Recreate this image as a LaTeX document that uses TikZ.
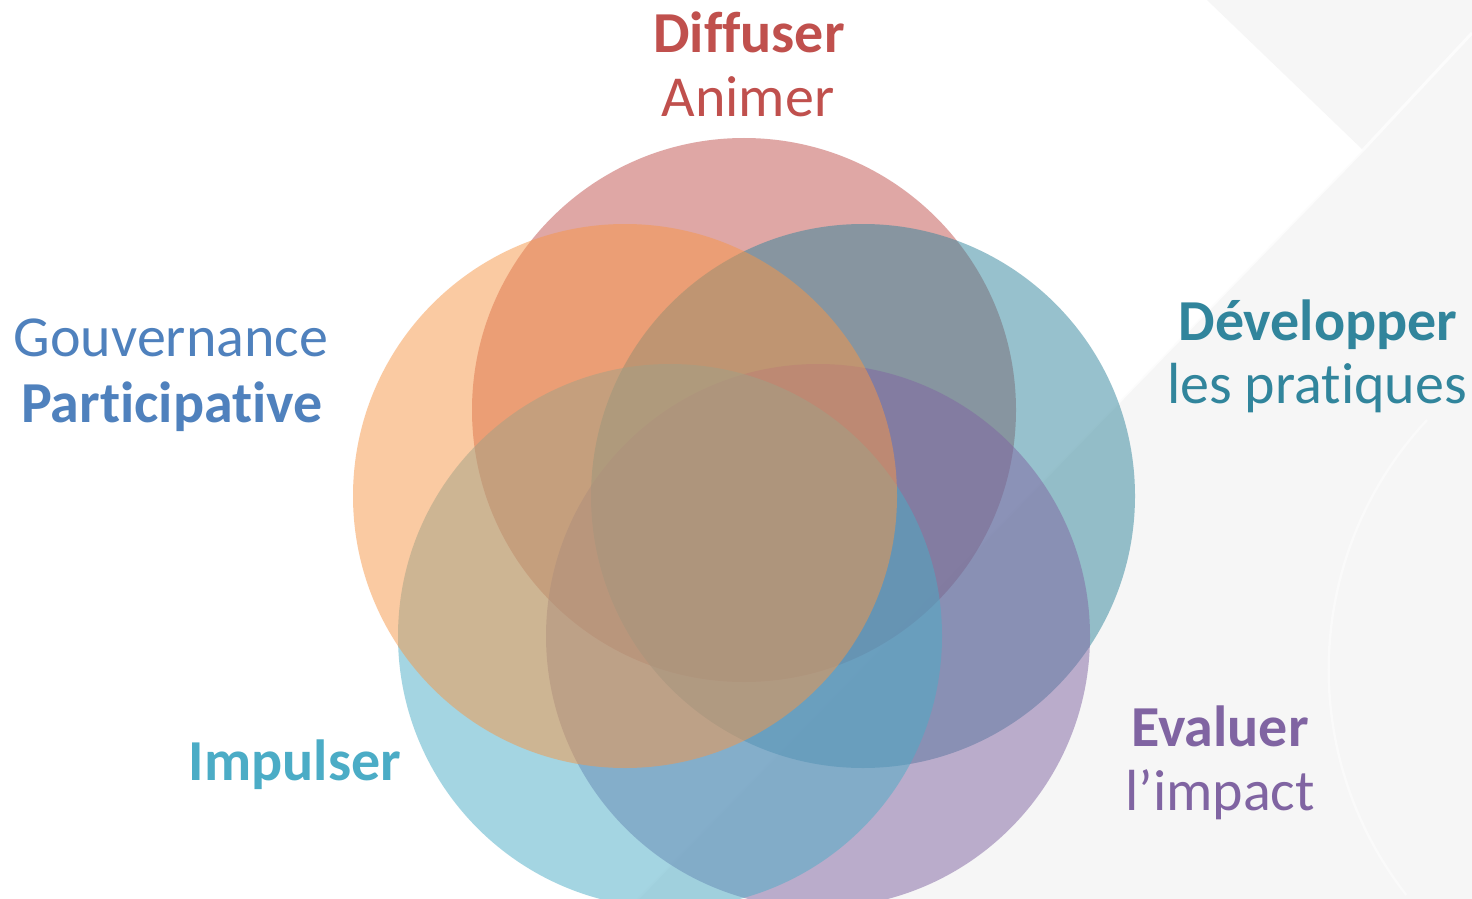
\documentclass[tikz,border=0pt]{standalone}
\usepackage{fontspec}
\setmainfont{Carlito}[Ligatures=NoCommon]
\usepackage{tikz}

\definecolor{cred}{HTML}{C0504D}
\definecolor{corange}{HTML}{F79646}
\definecolor{cteal}{HTML}{31859C}
\definecolor{cblue}{HTML}{4BACC6}
\definecolor{cpurple}{HTML}{8064A2}
\definecolor{cgov}{HTML}{4F81BD}
\definecolor{bggrey}{HTML}{F6F6F6}

\tikzset{
	petal/.style={fill opacity=0.5},
	lbl/.style={anchor=base, inner sep=0pt, font=\fontsize{29}{32}\selectfont}
}

\begin{document}
\begin{tikzpicture}[x=0.5pt,y=-0.5pt]
	
	\useasboundingbox (0,0) rectangle (1472,899);
	\fill[white] (0,0) rectangle (1472,899);
	\fill[bggrey] (1207,0) -- (1363,150) -- (637,899) -- (1472,899) -- (1472,0) -- cycle;
	\draw[white, line width=1.5pt, opacity=0.7] (1472,33) -- (1363,150) -- (637,899);
	\draw[white, line width=1.2pt, opacity=0.45] (1427,420) arc[start angle=137, end angle=218, radius=183pt];
	
	\coordinate (mid) at (744,535);
	\fill[cred,    petal] (744,410) circle[radius=136pt];
	\fill[cteal,   petal] (863,496) circle[radius=136pt];
	\fill[cpurple, petal] (818,636) circle[radius=136pt];
	\fill[cblue,   petal] (670,636) circle[radius=136pt];
	\fill[corange, petal] (625,496) circle[radius=136pt];
	
	\node[lbl, text=cred] (diffuser) at (749,53)  {\textbf{Diffuser}};
	\node[lbl, text=cred] (animer)   at (748,117) {Animer};
	\node[lbl, text=cgov] (gouv)     at (171,356) {Gouvernance};
	\node[lbl, text=cgov] (partic)   at (172,422) {\textbf{Participative}};
	\node[lbl, text=cteal] (develop) at (1318,340) {\textbf{Développer}};
	\node[lbl, text=cteal] (prat)    at (1317,403) {les pratiques};
	\node[lbl, text=cpurple] (eval)  at (1220,746) {\textbf{Evaluer}};
	\node[lbl, text=cpurple] (impact) at (1220,810) {l’impact};
	\node[lbl, text=cblue] (impuls)  at (295,780) {\textbf{Impulser}};
	
\end{tikzpicture}
\end{document}
